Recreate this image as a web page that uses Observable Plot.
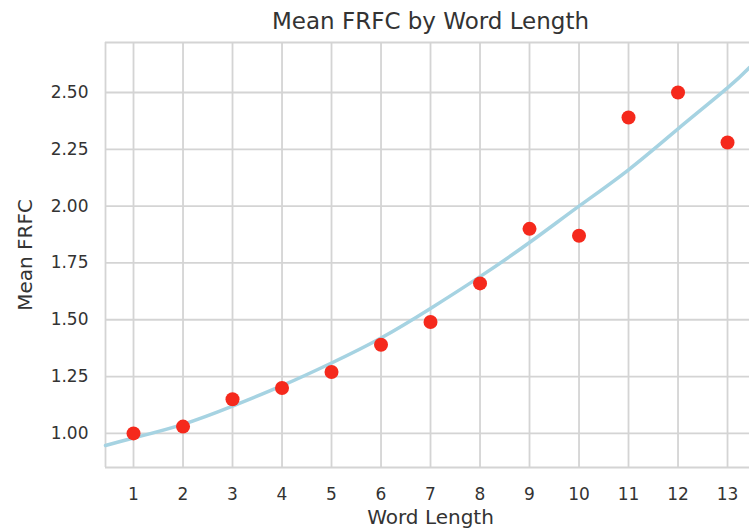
<!DOCTYPE html>
<html>
<head>
<meta charset="utf-8">
<script src="https://cdn.jsdelivr.net/npm/d3@7"></script>
<script src="https://cdn.jsdelivr.net/npm/@observablehq/plot@0.6"></script>
<style>
  html, body { margin: 0; padding: 0; background: #fff; }
  #chart { width: 749px; height: 530px; overflow: hidden; }
</style>
</head>
<body>
<div id="chart"></div>
<script>
// Observed mean FRFC per word length
const wordLength = [1, 2, 3, 4, 5, 6, 7, 8, 9, 10, 11, 12, 13];
const meanFRFC   = [1.00, 1.03, 1.15, 1.20, 1.27, 1.39, 1.49, 1.66, 1.90, 1.87, 2.39, 2.50, 2.28];

// Fitted trend curve
const fitX = [0.434, 1, 2, 3, 4, 5, 6, 7, 8, 9, 10, 11, 12, 13, 13.444];
const fitY = [0.947, 0.98, 1.04, 1.12, 1.21, 1.31, 1.42, 1.55, 1.69, 1.84, 2.00, 2.16, 2.34, 2.52, 2.61];

// Axis ticks and domains
const xTicks = [1, 2, 3, 4, 5, 6, 7, 8, 9, 10, 11, 12, 13];
const yTicks = [1.00, 1.25, 1.50, 1.75, 2.00, 2.25, 2.50];
const xDomain = [0.434, 13.444];
const yDomain = [0.850, 2.720];

const titleText = "Mean FRFC by Word Length";
const xLabel = "Word Length";
const yLabel = "Mean FRFC";

const points = wordLength.map((x, i) => ({x, y: meanFRFC[i]}));
const fit = fitX.map((x, i) => ({x, y: fitY[i]}));

const textColor = "#333333";
const gridColor = "#d4d4d4";

const chart = Plot.plot({
  width: 749,
  height: 530,
  marginTop: 42,
  marginBottom: 63,
  marginLeft: 105,
  marginRight: 0,
  style: {fontFamily: "'DejaVu Sans', sans-serif", color: textColor, background: "#ffffff"},
  x: {domain: xDomain, ticks: xTicks},
  y: {domain: yDomain, ticks: yTicks},
  marks: [
    Plot.gridX(xTicks, {stroke: gridColor, strokeOpacity: 1, strokeWidth: 1.8}),
    Plot.gridY(yTicks, {stroke: gridColor, strokeOpacity: 1, strokeWidth: 1.8}),
    Plot.ruleX([xDomain[0]], {stroke: gridColor, strokeWidth: 1.8}),
    Plot.ruleY(yDomain, {stroke: gridColor, strokeWidth: 1.8}),
    Plot.axisX(xTicks, {tickSize: 0, tickPadding: 20, fontSize: 17, fill: textColor, label: null, tickFormat: d => String(d)}),
    Plot.axisY(yTicks, {tickSize: 0, tickPadding: 17, fontSize: 17, fill: textColor, label: null, tickFormat: d3.format(".2f")}),
    Plot.line(fit, {x: "x", y: "y", curve: "natural", stroke: "#a6d3e2", strokeWidth: 3.5}),
    Plot.dot(points, {x: "x", y: "y", r: 7, fill: "#f5291c", stroke: "none"}),
    Plot.text([titleText], {frameAnchor: "top", dx: 3, dy: -21, fontSize: 23, fill: textColor, lineAnchor: "middle", textAnchor: "middle"}),
    Plot.text([xLabel], {frameAnchor: "bottom", dx: 3, dy: 50, fontSize: 20, fill: textColor, lineAnchor: "middle", textAnchor: "middle"}),
    Plot.text([yLabel], {frameAnchor: "left", dx: -80, rotate: -90, fontSize: 20, fill: textColor, lineAnchor: "middle", textAnchor: "middle"})
  ]
});
document.getElementById("chart").appendChild(chart);
</script>
</body>
</html>
